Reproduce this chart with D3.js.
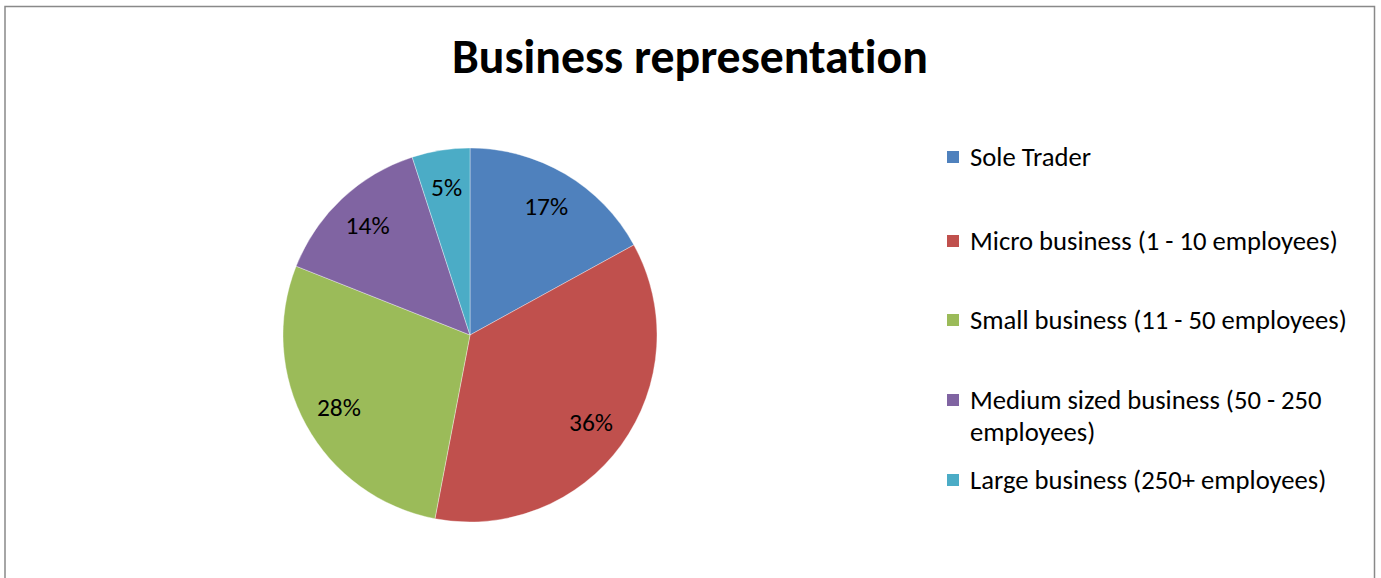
<!DOCTYPE html>
<html>
<head>
<meta charset="utf-8">
<script src="https://cdn.jsdelivr.net/npm/d3@7"></script>
<style>
  html, body { margin: 0; padding: 0; background: #fff; }
  svg { display: block; }
  text { font-family: Calibri, Carlito, Lato, "Open Sans", sans-serif; fill: #000; font-variant-ligatures: none; }
</style>
</head>
<body>
<svg id="chart" width="1381" height="578"></svg>
<script>
// Business size breakdown (percent of respondents)
const categories = [
  "Sole Trader",
  "Micro business (1 - 10 employees)",
  "Small business (11 - 50 employees)",
  "Medium sized business (50 - 250 employees)",
  "Large business (250+ employees)"
];
const legendLines = [
  ["Sole Trader"],
  ["Micro business (1 - 10 employees)"],
  ["Small business (11 - 50 employees)"],
  ["Medium sized business (50 - 250", "employees)"],
  ["Large business (250+ employees)"]
];
const values = [17, 36, 28, 14, 5];
const colors = ["#4F81BD", "#C0504D", "#9BBB59", "#8064A2", "#4BACC6"];
const title = "Business representation";

const svg = d3.select("#chart");

// chart frame
svg.append("rect")
  .attr("x", 5).attr("y", 6.5)
  .attr("width", 1369.5).attr("height", 600)
  .attr("fill", "#fff")
  .attr("stroke", "#898989")
  .attr("stroke-width", 1.5);

// fits a text element to a target width by adjusting its font size
function fitWidth(sel, target) {
  const node = sel.node();
  const fs = parseFloat(sel.attr("font-size"));
  const w = node.getComputedTextLength();
  if (w > 0) sel.attr("font-size", (fs * target / w).toFixed(2));
}

// title
const t = svg.append("text")
  .attr("x", 690).attr("y", 73)
  .attr("text-anchor", "middle")
  .attr("font-weight", "bold")
  .attr("font-size", 40)
  .text(title);
fitWidth(t, 476);

// pie
const cx = 470, cy = 335, r = 187;
const pie = d3.pie().sort(null).value(d => d);
const arcs = pie(values);
const arc = d3.arc().innerRadius(0).outerRadius(r);
const labelArc = d3.arc().innerRadius(r * 0.8).outerRadius(r * 0.8);
const color = d3.scaleOrdinal().domain(d3.range(values.length)).range(colors);

const g = svg.append("g").attr("transform", `translate(${cx},${cy})`);
g.selectAll("path.slice")
  .data(arcs)
  .join("path")
  .attr("class", "slice")
  .attr("d", arc)
  .attr("fill", (d, i) => color(i))
  .attr("stroke", "#fff")
  .attr("stroke-width", 0.6)
  .attr("stroke-opacity", 0.6);

const pct = g.selectAll("text.pct")
  .data(arcs)
  .join("text")
  .attr("class", "pct")
  .attr("transform", d => `translate(${labelArc.centroid(d)})`)
  .attr("text-anchor", "middle")
  .attr("dominant-baseline", "central")
  .attr("font-size", 20)
  .text(d => d.data + "%");
// size data labels so "17%" spans about 44px
const pw = pct.node().getComputedTextLength();
if (pw > 0) pct.attr("font-size", (20 * 44 / pw).toFixed(2));

// legend
const rowY = [157, 241, 320, 400, 480];
const lg = svg.append("g");
const items = lg.selectAll("g.item")
  .data(categories)
  .join("g")
  .attr("class", "item")
  .attr("transform", (d, i) => `translate(947,${rowY[i]})`);
items.append("rect")
  .attr("x", 0).attr("y", -6)
  .attr("width", 12).attr("height", 12)
  .attr("fill", (d, i) => color(i));
const lt = items.append("text")
  .attr("x", 23)
  .attr("font-size", 20);
lt.selectAll("tspan")
  .data((d, i) => legendLines[i])
  .join("tspan")
  .attr("x", 23)
  .attr("y", (d, j) => j * 32)
  .attr("dominant-baseline", "central")
  .text(d => d);

// match legend text width
const micro = lt.filter((d, i) => i === 1);
const mw = micro.node().getComputedTextLength();
if (mw > 0) lt.attr("font-size", (20 * 368 / mw).toFixed(2));
</script>
</body>
</html>
